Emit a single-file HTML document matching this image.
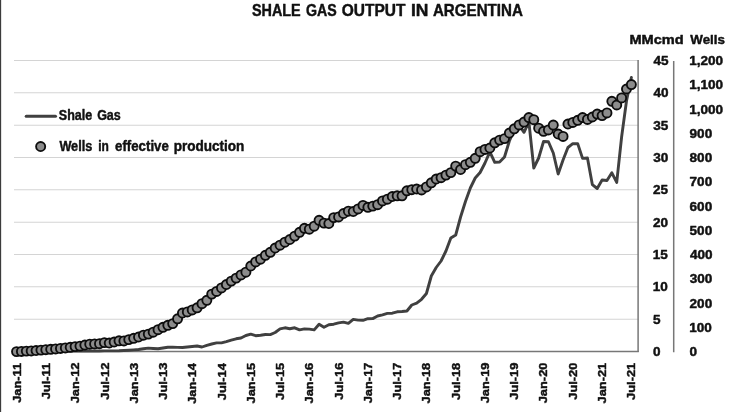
<!DOCTYPE html>
<html><head><meta charset="utf-8"><title>Shale gas output in Argentina</title>
<style>
html,body{margin:0;padding:0;background:#fff;}
body{width:730px;height:412px;overflow:hidden;}
svg{display:block;will-change:transform;}
text{font-family:"Liberation Sans",sans-serif;font-weight:bold;fill:#111;stroke:#111;stroke-width:0.45px;stroke-linejoin:round;}
</style></head><body>
<svg width="730" height="412" viewBox="0 0 730 412">
<rect x="0" y="0" width="730" height="412" fill="#ffffff"/>
<rect x="0" y="0" width="1.15" height="412" fill="#3c3c3c"/>
<g stroke="#d4d4d4" stroke-width="1.05" fill="none">
<line x1="14" y1="60.50" x2="638.5" y2="60.50"/>
<line x1="14" y1="92.83" x2="638.5" y2="92.83"/>
<line x1="14" y1="125.17" x2="638.5" y2="125.17"/>
<line x1="14" y1="157.50" x2="638.5" y2="157.50"/>
<line x1="14" y1="189.83" x2="638.5" y2="189.83"/>
<line x1="14" y1="222.17" x2="638.5" y2="222.17"/>
<line x1="14" y1="254.50" x2="638.5" y2="254.50"/>
<line x1="14" y1="286.83" x2="638.5" y2="286.83"/>
<line x1="14" y1="319.17" x2="638.5" y2="319.17"/>
</g>
<g stroke="#777777" stroke-width="1.5" fill="none">
<line x1="14" y1="351.5" x2="638.8" y2="351.5"/>
<line x1="638.1" y1="60" x2="638.1" y2="352"/>
<line x1="673.7" y1="61" x2="673.7" y2="352.2"/>
</g>
<polyline points="16.55,351.3 21.43,351.3 26.31,351.3 31.19,351.2 36.07,351.2 40.95,351.2 45.83,351.2 50.71,351.2 55.59,351.1 60.47,351.1 65.34,351.1 70.22,351.1 75.10,351.1 79.98,351.0 84.86,351.0 89.74,351.0 94.62,351.0 99.50,351.0 104.38,350.9 109.26,350.9 114.14,350.9 119.02,350.8 123.90,350.5 128.78,350.2 133.66,349.9 138.54,349.5 143.42,348.8 148.30,348.1 153.18,348.5 158.06,348.8 162.94,348.0 167.81,347.3 172.69,347.2 177.57,347.4 182.45,347.5 187.33,347.0 192.21,346.5 197.09,346.0 201.97,347.0 206.85,345.3 211.73,344.0 216.61,342.9 221.49,342.9 226.37,341.6 231.25,340.1 236.13,338.8 241.01,338.0 245.89,335.5 250.77,334.2 255.65,335.7 260.53,335.2 265.40,334.5 270.28,334.6 275.16,332.5 280.04,328.8 284.92,327.8 289.80,328.7 294.68,327.8 299.56,329.9 304.44,328.9 309.32,329.1 314.20,329.9 319.08,324.2 323.96,327.2 328.84,324.7 333.72,324.2 338.60,322.9 343.48,322.1 348.36,323.4 353.24,319.4 358.12,320.1 362.99,320.3 367.87,318.7 372.75,318.6 377.63,316.0 382.51,314.9 387.39,313.4 392.27,313.2 397.15,311.8 402.03,311.5 406.91,311.0 411.79,305.0 416.67,303.2 421.55,299.3 426.43,293.5 431.31,276.0 436.19,267.5 441.07,261.0 445.95,251.0 450.83,238.0 455.71,235.0 460.58,217.0 465.46,201.5 470.34,188.0 475.22,178.0 480.10,172.5 484.98,163.0 489.86,151.8 494.74,162.3 499.62,162.0 504.50,157.0 509.38,141.0 514.26,130.0 519.14,125.5 524.02,132.3 528.90,122.0 533.78,168.0 538.66,158.0 543.54,141.5 548.42,141.7 553.29,153.0 558.17,174.0 563.05,160.0 567.93,147.5 572.81,143.7 577.69,143.6 582.57,158.4 587.45,158.0 592.33,184.6 597.21,188.5 602.09,180.0 606.97,180.5 611.85,172.8 616.73,182.4 621.61,137.0 626.49,101.0 631.37,77.5" fill="none" stroke="#404040" stroke-width="2.9" stroke-linejoin="round" stroke-linecap="round"/>
<g fill="#8c8c8c" stroke="#0d0d0d" stroke-width="1.85">
<circle cx="16.55" cy="351.6" r="4.55"/>
<circle cx="21.43" cy="351.4" r="4.55"/>
<circle cx="26.31" cy="351.1" r="4.55"/>
<circle cx="31.19" cy="350.9" r="4.55"/>
<circle cx="36.07" cy="350.5" r="4.55"/>
<circle cx="40.95" cy="350.1" r="4.55"/>
<circle cx="45.83" cy="349.7" r="4.55"/>
<circle cx="50.71" cy="349.3" r="4.55"/>
<circle cx="55.59" cy="348.9" r="4.55"/>
<circle cx="60.47" cy="348.4" r="4.55"/>
<circle cx="65.34" cy="347.9" r="4.55"/>
<circle cx="70.22" cy="347.3" r="4.55"/>
<circle cx="75.10" cy="346.6" r="4.55"/>
<circle cx="79.98" cy="346.1" r="4.55"/>
<circle cx="84.86" cy="345.0" r="4.55"/>
<circle cx="89.74" cy="344.2" r="4.55"/>
<circle cx="94.62" cy="343.9" r="4.55"/>
<circle cx="99.50" cy="343.7" r="4.55"/>
<circle cx="104.38" cy="342.6" r="4.55"/>
<circle cx="109.26" cy="343.0" r="4.55"/>
<circle cx="114.14" cy="342.0" r="4.55"/>
<circle cx="119.02" cy="340.8" r="4.55"/>
<circle cx="123.90" cy="340.9" r="4.55"/>
<circle cx="128.78" cy="339.6" r="4.55"/>
<circle cx="133.66" cy="338.3" r="4.55"/>
<circle cx="138.54" cy="337.0" r="4.55"/>
<circle cx="143.42" cy="335.2" r="4.55"/>
<circle cx="148.30" cy="334.1" r="4.55"/>
<circle cx="153.18" cy="332.2" r="4.55"/>
<circle cx="158.06" cy="329.7" r="4.55"/>
<circle cx="162.94" cy="327.3" r="4.55"/>
<circle cx="167.81" cy="325.3" r="4.55"/>
<circle cx="172.69" cy="323.6" r="4.55"/>
<circle cx="177.57" cy="318.8" r="4.55"/>
<circle cx="182.45" cy="313.0" r="4.55"/>
<circle cx="187.33" cy="311.9" r="4.55"/>
<circle cx="192.21" cy="309.9" r="4.55"/>
<circle cx="197.09" cy="307.8" r="4.55"/>
<circle cx="201.97" cy="303.7" r="4.55"/>
<circle cx="206.85" cy="300.3" r="4.55"/>
<circle cx="211.73" cy="294.1" r="4.55"/>
<circle cx="216.61" cy="291.4" r="4.55"/>
<circle cx="221.49" cy="287.9" r="4.55"/>
<circle cx="226.37" cy="284.5" r="4.55"/>
<circle cx="231.25" cy="281.1" r="4.55"/>
<circle cx="236.13" cy="278.1" r="4.55"/>
<circle cx="241.01" cy="274.9" r="4.55"/>
<circle cx="245.89" cy="272.2" r="4.55"/>
<circle cx="250.77" cy="266.0" r="4.55"/>
<circle cx="255.65" cy="261.9" r="4.55"/>
<circle cx="260.53" cy="259.2" r="4.55"/>
<circle cx="265.40" cy="255.3" r="4.55"/>
<circle cx="270.28" cy="252.3" r="4.55"/>
<circle cx="275.16" cy="248.0" r="4.55"/>
<circle cx="280.04" cy="245.2" r="4.55"/>
<circle cx="284.92" cy="242.2" r="4.55"/>
<circle cx="289.80" cy="239.5" r="4.55"/>
<circle cx="294.68" cy="236.1" r="4.55"/>
<circle cx="299.56" cy="232.3" r="4.55"/>
<circle cx="304.44" cy="228.3" r="4.55"/>
<circle cx="309.32" cy="229.2" r="4.55"/>
<circle cx="314.20" cy="226.2" r="4.55"/>
<circle cx="319.08" cy="220.3" r="4.55"/>
<circle cx="323.96" cy="223.1" r="4.55"/>
<circle cx="328.84" cy="223.5" r="4.55"/>
<circle cx="333.72" cy="217.6" r="4.55"/>
<circle cx="338.60" cy="216.9" r="4.55"/>
<circle cx="343.48" cy="213.5" r="4.55"/>
<circle cx="348.36" cy="211.2" r="4.55"/>
<circle cx="353.24" cy="211.5" r="4.55"/>
<circle cx="358.12" cy="208.9" r="4.55"/>
<circle cx="362.99" cy="205.4" r="4.55"/>
<circle cx="367.87" cy="207.3" r="4.55"/>
<circle cx="372.75" cy="206.1" r="4.55"/>
<circle cx="377.63" cy="204.7" r="4.55"/>
<circle cx="382.51" cy="200.9" r="4.55"/>
<circle cx="387.39" cy="199.2" r="4.55"/>
<circle cx="392.27" cy="196.5" r="4.55"/>
<circle cx="397.15" cy="195.8" r="4.55"/>
<circle cx="402.03" cy="195.8" r="4.55"/>
<circle cx="406.91" cy="190.8" r="4.55"/>
<circle cx="411.79" cy="189.7" r="4.55"/>
<circle cx="416.67" cy="189.0" r="4.55"/>
<circle cx="421.55" cy="189.9" r="4.55"/>
<circle cx="426.43" cy="186.9" r="4.55"/>
<circle cx="431.31" cy="182.8" r="4.55"/>
<circle cx="436.19" cy="179.0" r="4.55"/>
<circle cx="441.07" cy="177.7" r="4.55"/>
<circle cx="445.95" cy="175.1" r="4.55"/>
<circle cx="450.83" cy="172.6" r="4.55"/>
<circle cx="455.71" cy="166.1" r="4.55"/>
<circle cx="460.58" cy="169.5" r="4.55"/>
<circle cx="465.46" cy="164.7" r="4.55"/>
<circle cx="470.34" cy="162.3" r="4.55"/>
<circle cx="475.22" cy="158.3" r="4.55"/>
<circle cx="480.10" cy="151.7" r="4.55"/>
<circle cx="484.98" cy="149.4" r="4.55"/>
<circle cx="489.86" cy="148.0" r="4.55"/>
<circle cx="494.74" cy="142.8" r="4.55"/>
<circle cx="499.62" cy="140.1" r="4.55"/>
<circle cx="504.50" cy="138.6" r="4.55"/>
<circle cx="509.38" cy="133.0" r="4.55"/>
<circle cx="514.26" cy="128.8" r="4.55"/>
<circle cx="519.14" cy="124.9" r="4.55"/>
<circle cx="524.02" cy="122.1" r="4.55"/>
<circle cx="528.90" cy="117.6" r="4.55"/>
<circle cx="533.78" cy="119.7" r="4.55"/>
<circle cx="538.66" cy="128.2" r="4.55"/>
<circle cx="543.54" cy="131.3" r="4.55"/>
<circle cx="548.42" cy="129.9" r="4.55"/>
<circle cx="553.29" cy="125.1" r="4.55"/>
<circle cx="558.17" cy="134.0" r="4.55"/>
<circle cx="563.05" cy="136.4" r="4.55"/>
<circle cx="567.93" cy="124.0" r="4.55"/>
<circle cx="572.81" cy="122.4" r="4.55"/>
<circle cx="577.69" cy="120.3" r="4.55"/>
<circle cx="582.57" cy="117.6" r="4.55"/>
<circle cx="587.45" cy="119.4" r="4.55"/>
<circle cx="592.33" cy="117.0" r="4.55"/>
<circle cx="597.21" cy="114.1" r="4.55"/>
<circle cx="602.09" cy="115.6" r="4.55"/>
<circle cx="606.97" cy="112.9" r="4.55"/>
<circle cx="611.85" cy="101.3" r="4.55"/>
<circle cx="616.73" cy="105.0" r="4.55"/>
<circle cx="621.61" cy="97.9" r="4.55"/>
<circle cx="626.49" cy="89.0" r="4.55"/>
<circle cx="631.37" cy="84.6" r="4.55"/>
</g>
<text transform="translate(251.96,16.20) scale(0.8889,1)" font-size="16.2">SHALE</text>
<text transform="translate(305.97,16.20) scale(0.8753,1)" font-size="16.2">GAS</text>
<text transform="translate(341.72,16.20) scale(0.9588,1)" font-size="16.2">OUTPUT</text>
<text transform="translate(411.01,16.20) scale(1.0794,1)" font-size="16.2">IN</text>
<text transform="translate(432.92,16.20) scale(0.9352,1)" font-size="16.2">ARGENTINA</text>
<line x1="26.2" y1="116.3" x2="55.5" y2="116.3" stroke="#404040" stroke-width="3" stroke-linecap="round"/>
<text transform="translate(58.83,120.40) scale(0.8956,1)" font-size="14">Shale</text>
<text transform="translate(97.13,120.40) scale(0.8946,1)" font-size="14">Gas</text>
<circle cx="40.65" cy="146.5" r="4.55" fill="#8c8c8c" stroke="#0d0d0d" stroke-width="1.85"/>
<text transform="translate(59.40,151.30) scale(0.9048,1)" font-size="14">Wells</text>
<text transform="translate(98.20,151.30) scale(0.8571,1)" font-size="14">in</text>
<text transform="translate(115.10,151.30) scale(0.9458,1)" font-size="14">effective</text>
<text transform="translate(173.65,151.30) scale(0.9692,1)" font-size="14">production</text>
<text transform="translate(629.49,44.20) scale(1.1048,1)" font-size="13.2">MMcmd</text>
<text transform="translate(690.30,44.20) scale(1.0101,1)" font-size="13.2">Wells</text>
<text transform="translate(653.43,65.00) scale(1.0750,1)" font-size="12.6">45</text>
<text transform="translate(653.43,97.33) scale(1.0750,1)" font-size="12.6">40</text>
<text transform="translate(653.26,129.67) scale(1.0750,1)" font-size="12.6">35</text>
<text transform="translate(653.26,162.00) scale(1.0750,1)" font-size="12.6">30</text>
<text transform="translate(653.09,194.33) scale(1.0750,1)" font-size="12.6">25</text>
<text transform="translate(653.09,226.67) scale(1.0750,1)" font-size="12.6">20</text>
<text transform="translate(652.75,259.00) scale(1.0750,1)" font-size="12.6">15</text>
<text transform="translate(652.75,291.33) scale(1.0750,1)" font-size="12.6">10</text>
<text transform="translate(653.09,323.67) scale(1.0750,1)" font-size="12.6">5</text>
<text transform="translate(653.09,356.00) scale(1.0750,1)" font-size="12.6">0</text>
<text transform="translate(689.25,65.00) scale(1.0750,1)" font-size="12.6">1,200</text>
<text transform="translate(689.25,89.25) scale(1.0750,1)" font-size="12.6">1,100</text>
<text transform="translate(689.25,113.50) scale(1.0750,1)" font-size="12.6">1,000</text>
<text transform="translate(689.59,137.75) scale(1.0750,1)" font-size="12.6">900</text>
<text transform="translate(689.59,162.00) scale(1.0750,1)" font-size="12.6">800</text>
<text transform="translate(689.59,186.25) scale(1.0750,1)" font-size="12.6">700</text>
<text transform="translate(689.59,210.50) scale(1.0750,1)" font-size="12.6">600</text>
<text transform="translate(689.59,234.75) scale(1.0750,1)" font-size="12.6">500</text>
<text transform="translate(689.93,259.00) scale(1.0750,1)" font-size="12.6">400</text>
<text transform="translate(689.76,283.25) scale(1.0750,1)" font-size="12.6">300</text>
<text transform="translate(689.59,307.50) scale(1.0750,1)" font-size="12.6">200</text>
<text transform="translate(689.25,331.75) scale(1.0750,1)" font-size="12.6">100</text>
<text transform="translate(689.59,356.00) scale(1.0750,1)" font-size="12.6">0</text>
<text transform="translate(20.80,402.81) rotate(-90) scale(1.0900,1)" font-size="11.8">Jan-11</text>
<text transform="translate(50.05,399.27) rotate(-90) scale(1.0900,1)" font-size="11.8">Jul-11</text>
<text transform="translate(79.30,403.29) rotate(-90) scale(1.0900,1)" font-size="11.8">Jan-12</text>
<text transform="translate(108.55,399.76) rotate(-90) scale(1.0900,1)" font-size="11.8">Jul-12</text>
<text transform="translate(137.80,403.45) rotate(-90) scale(1.0900,1)" font-size="11.8">Jan-13</text>
<text transform="translate(167.05,399.76) rotate(-90) scale(1.0900,1)" font-size="11.8">Jul-13</text>
<text transform="translate(196.30,403.78) rotate(-90) scale(1.0900,1)" font-size="11.8">Jan-14</text>
<text transform="translate(225.55,400.24) rotate(-90) scale(1.0900,1)" font-size="11.8">Jul-14</text>
<text transform="translate(254.80,403.45) rotate(-90) scale(1.0900,1)" font-size="11.8">Jan-15</text>
<text transform="translate(284.05,399.92) rotate(-90) scale(1.0900,1)" font-size="11.8">Jul-15</text>
<text transform="translate(313.30,403.45) rotate(-90) scale(1.0900,1)" font-size="11.8">Jan-16</text>
<text transform="translate(342.55,399.76) rotate(-90) scale(1.0900,1)" font-size="11.8">Jul-16</text>
<text transform="translate(371.80,403.29) rotate(-90) scale(1.0900,1)" font-size="11.8">Jan-17</text>
<text transform="translate(401.05,399.76) rotate(-90) scale(1.0900,1)" font-size="11.8">Jul-17</text>
<text transform="translate(430.30,403.45) rotate(-90) scale(1.0900,1)" font-size="11.8">Jan-18</text>
<text transform="translate(459.55,399.92) rotate(-90) scale(1.0900,1)" font-size="11.8">Jul-18</text>
<text transform="translate(488.80,403.29) rotate(-90) scale(1.0900,1)" font-size="11.8">Jan-19</text>
<text transform="translate(518.05,399.76) rotate(-90) scale(1.0900,1)" font-size="11.8">Jul-19</text>
<text transform="translate(547.30,403.29) rotate(-90) scale(1.0900,1)" font-size="11.8">Jan-20</text>
<text transform="translate(576.55,399.76) rotate(-90) scale(1.0900,1)" font-size="11.8">Jul-20</text>
<text transform="translate(605.80,403.45) rotate(-90) scale(1.0900,1)" font-size="11.8">Jan-21</text>
<text transform="translate(635.05,399.92) rotate(-90) scale(1.0900,1)" font-size="11.8">Jul-21</text>
</svg>
</body></html>
